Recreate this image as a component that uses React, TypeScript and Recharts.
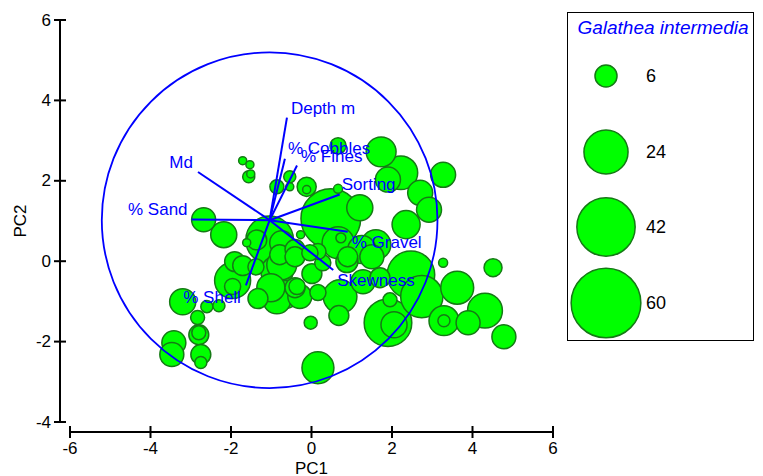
import { ScatterChart, Scatter, XAxis, YAxis, ZAxis } from 'recharts';

// PCA scores for each sample (PC1, PC2) and Galathea intermedia abundance
const PC1 = [
  -1.71, -1.53, -1.56, -1.51, -2.68, -2.18, -0.86, -0.54, -0.54, -0.12,
  -0.12, 0.66, 0.66, 0.48, 1.2, 1.73, 2.22, 1.9, 2.7, 2.92,
  3.27, 2.35, 0.66, 0.73, 1.6, 1.25, 0.88, 3.27, 4.51, 2.47,
  3.62, 4.31, 3.29, 3.29, 3.89, 4.78, 2.74, 1.9, 2.05, 1.95,
  1.28, 1.7, 0.71, 0.68, -0.02, 0.16, 0.16, -0.41, 0.01, -0.66,
  0.28, -0.29, -0.86, -1.33, -0.36, -1.96, -1.96, -1.91, -1.71, -1.61,
  -1.36, -1.04, -1.38, -0.79, -0.74, -0.86, -0.41, -0.27, 0.16, -0.04,
  -0.41, -0.74, 0.9, 1.5, -3.2, -2.6, -2.3, -2.83, -2.8, -2.8,
  -2.75, -2.75, -3.42, -3.47, -1.01,
];
const PC2 = [
  2.5, 2.4, 2.1, 2.17, 1.03, 0.66, 1.85, 2.1, 1.85, 1.85,
  1.78, 2.87, 1.8, 1.06, 1.33, 2.72, 2.2, 2.03, 1.7, 1.28,
  2.15, 0.91, 0.46, 0.58, 0.41, 0.29, -0.01, -0.04, -0.16, -0.34,
  -0.66, -1.23, -1.48, -1.48, -1.53, -1.88, -0.88, -1.53, -1.58, -0.96,
  -0.51, -0.41, -0.88, -1.35, -1.53, -2.65, -0.78, -0.66, -0.31, -0.83,
  -0.04, -0.88, -0.96, -0.93, -0.63, -0.48, -0.63, -0.01, -0.11, 0.46,
  0.53, 0.53, -0.14, 0.16, -0.09, -0.26, 0.29, 0.66, 0.24, 0.21,
  0.11, 0.46, 0.11, 0.11, -1.01, -1.13, -1.11, -1.4, -1.83, -1.78,
  -2.32, -2.52, -2.03, -2.32, -0.66,
];
const ABUNDANCE = [
  0.8, 0.8, 1.8, 0.8, 7.1, 8.4, 2.4, 1.8, 0.8, 4.5,
  0.8, 3.2, 1, 44, 8.4, 11, 14, 7.7, 7.7, 7.7,
  7.7, 9.7, 12.6, 1.2, 11, 9.7, 6, 1, 4, 28,
  13.4, 15, 11, 1.8, 7.1, 7.1, 22, 28, 8.4, 2.4,
  7.1, 4.9, 14, 4.9, 2.1, 12.6, 3.2, 4.9, 4.9, 9.7,
  3.2, 7.1, 9.7, 4.9, 3.2, 16, 3.2, 4.9, 4.9, 0.8,
  4.9, 28, 3.2, 4.9, 11, 12.6, 4.9, 0.8, 3.2, 3.2,
  4.9, 7.1, 4.9, 7.1, 8.4, 1.8, 1.8, 2.4, 4.9, 2.4,
  4.9, 1.8, 7.1, 7.1, 9.7,
];

// environmental variable vectors (end points in PC space)
const VARIABLES = ['Depth m', '% Cobbles', '% Fines', 'Sorting', '% Gravel', 'Skewness', '% Shell', '% Sand', 'Md'];
const VEC_PC1 = [-0.61, -0.66, -0.36, 0.7, 0.9, 0.54, -1.63, -2.98, -2.82];
const VEC_PC2 = [3.57, 2.55, 2.38, 1.66, 0.73, -0.22, -0.6, 1.04, 2.22];
const VEC_ORIGIN = { x: -1.04, y: 1.02 };
const CIRCLE_RADIUS = 4.17;

const LEGEND_VALUES = [6, 24, 42, 60];
const X_TICKS = [-6, -4, -2, 0, 2, 4, 6];
const Y_TICKS = [-4, -2, 0, 2, 4, 6];

const W = 763;
const H = 476;
const MARGIN = { top: 20, right: 210, bottom: 0, left: 0 };
const Y_AXIS_W = 70;
const X_AXIS_H = 54;
const X_DOMAIN: [number, number] = [-6, 6];
const Y_DOMAIN: [number, number] = [-4, 6];
const PX_X = (W - Y_AXIS_W - MARGIN.right) / (X_DOMAIN[1] - X_DOMAIN[0]);
const PX_Y = (H - MARGIN.top - X_AXIS_H) / (Y_DOMAIN[1] - Y_DOMAIN[0]);
const Z_MAX = 60;
const SIZE_MAX = Math.PI * 4.5 * 4.5 * Z_MAX;
const FONT = '"Liberation Sans", Arial, sans-serif';
const BLUE = '#0000ff';
const GREEN = '#00ff00';
const GREEN_EDGE = '#157a15';
const AXIS_GAP = 10;

const LABEL_OFFSETS = [
  { dx: 4, dy: -9, anchor: 'start' },
  { dx: 3, dy: -10, anchor: 'start' },
  { dx: 4, dy: -9, anchor: 'start' },
  { dx: 2, dy: -10, anchor: 'start' },
  { dx: 4, dy: 11, anchor: 'start' },
  { dx: 4, dy: 10, anchor: 'start' },
  { dx: -5, dy: 12, anchor: 'end' },
  { dx: -4, dy: -10, anchor: 'end' },
  { dx: -5, dy: -9, anchor: 'end' },
];

const samples = PC1.map((x, i) => ({ x, y: PC2[i], z: ABUNDANCE[i] })).sort((a, b) => b.z - a.z);
const vectorEnds = VARIABLES.map((name, i) => ({ name, x: VEC_PC1[i], y: VEC_PC2[i], i }));
const circleCentre = [{ x: VEC_ORIGIN.x, y: VEC_ORIGIN.y }];

const radiusFor = (v: number) => Math.sqrt(((v / Z_MAX) * SIZE_MAX) / Math.PI);

const Bubble = (props: any) => {
  const { cx, cy } = props;
  const r = props.width ? props.width / 2 : Math.sqrt((props.size ?? 0) / Math.PI);
  return <circle cx={cx} cy={cy} r={r} fill={GREEN} stroke={GREEN_EDGE} strokeWidth={1.5} />;
};

const NoDot = () => <g />;

const CorrelationCircle = (props: any) => (
  <circle cx={props.cx} cy={props.cy} r={CIRCLE_RADIUS * PX_X} fill='none' stroke={BLUE} strokeWidth={1.8} />
);

const VectorLabel = (props: any) => {
  const { cx, cy, payload } = props;
  const o = LABEL_OFFSETS[payload.i];
  return (
    <text
      x={cx + o.dx}
      y={cy + o.dy}
      dominantBaseline='central'
      textAnchor={o.anchor}
      fontSize={17}
      fontFamily={FONT}
      fill={BLUE}
    >
      {payload.name}
    </text>
  );
};

const XTick = (props: any) => {
  const { x, y, payload } = props;
  const ay = y + AXIS_GAP;
  return (
    <g>
      {payload.value === X_DOMAIN[0] && (
        <line x1={x} x2={x + (X_DOMAIN[1] - X_DOMAIN[0]) * PX_X} y1={ay} y2={ay} stroke='#000' strokeWidth={2} />
      )}
      <line x1={x} x2={x} y1={ay - 6} y2={ay + 6} stroke='#000' strokeWidth={2} />
      <text x={x} y={ay + 16} dominantBaseline='central' textAnchor='middle' fontSize={17} fontFamily={FONT} fill='#000'>
        {payload.value}
      </text>
    </g>
  );
};

const YTick = (props: any) => {
  const { x, y, payload } = props;
  const ax = x - AXIS_GAP;
  return (
    <g>
      {payload.value === Y_DOMAIN[1] && (
        <line x1={ax} x2={ax} y1={y} y2={y + (Y_DOMAIN[1] - Y_DOMAIN[0]) * PX_Y} stroke='#000' strokeWidth={2} />
      )}
      <line x1={ax - 6} x2={ax + 6} y1={y} y2={y} stroke='#000' strokeWidth={2} />
      <text x={ax - 9} y={y} dominantBaseline='central' textAnchor='end' fontSize={17} fontFamily={FONT} fill='#000'>
        {payload.value}
      </text>
    </g>
  );
};

const BubbleLegend = () => (
  <div
    style={{
      position: 'absolute',
      left: 567,
      top: 12,
      width: 185,
      height: 327,
      border: '1.5px solid #000',
      background: '#fff',
    }}
  >
    <svg width={185} height={327} style={{ overflow: 'visible' }}>
      <text x={95} y={14} dominantBaseline='central' textAnchor='middle' fontSize={19} fontStyle='italic' fontFamily={FONT} fill={BLUE}>
        Galathea intermedia
      </text>
      {LEGEND_VALUES.map((v, i) => {
        const cy = [63, 139, 214, 290][i];
        return (
          <g key={v}>
            <circle cx={38} cy={cy} r={radiusFor(v)} fill={GREEN} stroke={GREEN_EDGE} strokeWidth={1.5} />
            <text x={78} y={cy} dominantBaseline='central' fontSize={18} fontFamily={FONT} fill='#000'>
              {v}
            </text>
          </g>
        );
      })}
    </svg>
  </div>
);

export default function App() {
  return (
    <div style={{ position: 'absolute', left: 0, top: 0, width: W, height: H, background: '#fff' }}>
      <ScatterChart width={W} height={H} margin={MARGIN}>
        <XAxis
          type='number'
          dataKey='x'
          domain={X_DOMAIN}
          ticks={X_TICKS}
          interval={0}
          height={X_AXIS_H}
          axisLine={false}
          tickLine={false}
          tickSize={0}
          tickMargin={0}
          tick={XTick}
          allowDataOverflow
          label={{
            content: (p: any) => {
              const vb = p.viewBox || {};
              return (
                <text x={vb.x + vb.width / 2} y={vb.y + 46} dominantBaseline='central' textAnchor='middle' fontSize={17} fontFamily={FONT} fill='#000'>
                  PC1
                </text>
              );
            },
          }}
        />
        <YAxis
          type='number'
          dataKey='y'
          domain={Y_DOMAIN}
          ticks={Y_TICKS}
          interval={0}
          width={Y_AXIS_W}
          axisLine={false}
          tickLine={false}
          tickSize={0}
          tickMargin={0}
          tick={YTick}
          allowDataOverflow
          label={{
            content: (p: any) => {
              const vb = p.viewBox || {};
              const cx = 20;
              const cy = vb.y + vb.height / 2;
              return (
                <text x={cx} y={cy} transform={`rotate(-90 ${cx} ${cy})`} dominantBaseline='central' textAnchor='middle' fontSize={17} fontFamily={FONT} fill='#000'>
                  PC2
                </text>
              );
            },
          }}
        />
        <ZAxis type='number' dataKey='z' domain={[0, Z_MAX]} range={[0, SIZE_MAX]} />
        <Scatter data={samples} shape={Bubble} isAnimationActive={false} />
        <Scatter data={circleCentre} shape={CorrelationCircle} isAnimationActive={false} />
        {vectorEnds.map((v) => (
          <Scatter
            key={v.name}
            data={[{ x: VEC_ORIGIN.x, y: VEC_ORIGIN.y }, { x: v.x, y: v.y }]}
            line={{ stroke: BLUE, strokeWidth: 2 }}
            shape={NoDot}
            isAnimationActive={false}
          />
        ))}
        <Scatter data={vectorEnds} shape={VectorLabel} isAnimationActive={false} />
      </ScatterChart>
      <BubbleLegend />
    </div>
  );
}
